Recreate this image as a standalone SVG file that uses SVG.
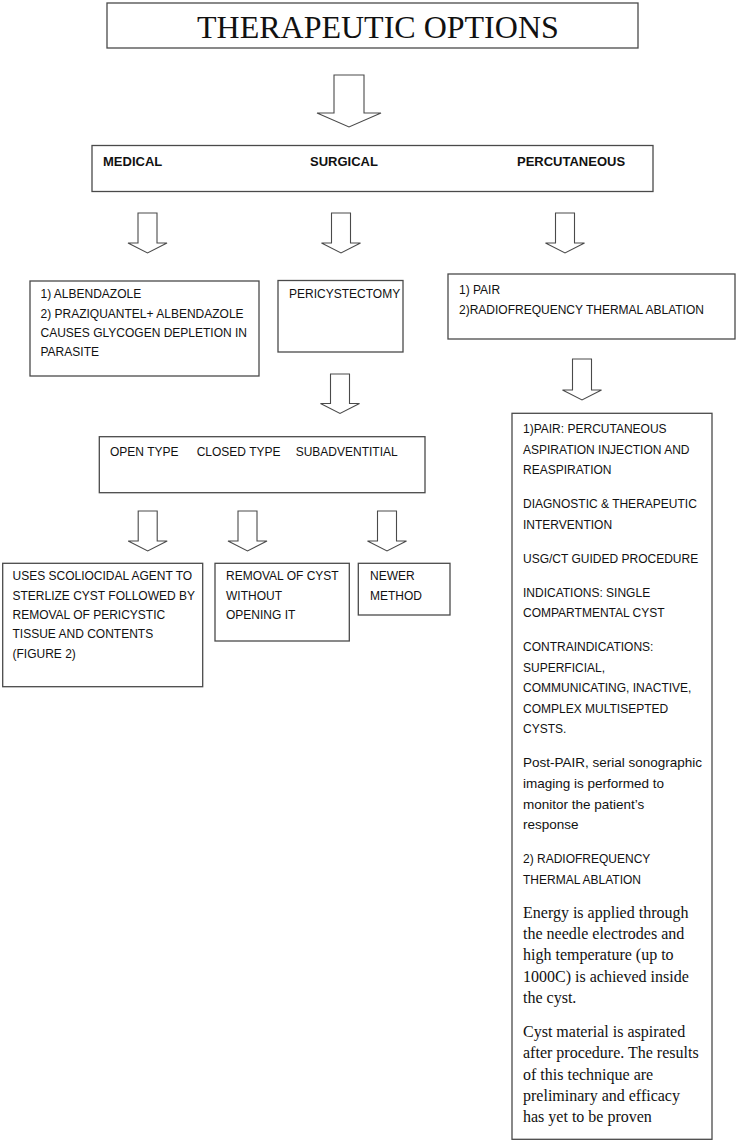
<svg xmlns="http://www.w3.org/2000/svg" width="737" height="1142" viewBox="0 0 737 1142">
<style>
.box{fill:#fff;stroke:#4a4a4a;stroke-width:1.3}
.arr{fill:#fff;stroke:#4a4a4a;stroke-width:1.1;stroke-linejoin:miter}
.t{font-family:"Liberation Sans",Arial,sans-serif;font-size:12px;fill:#111}
.tl{font-family:"Liberation Sans",Arial,sans-serif;font-size:13.5px;fill:#111}
.b{font-family:"Liberation Sans",Arial,sans-serif;font-size:13px;font-weight:bold;fill:#111}
.s{font-family:"Liberation Serif","Times New Roman",serif;font-size:16px;fill:#111}
.title{font-family:"Liberation Serif","Times New Roman",serif;font-size:32px;fill:#111}
</style>
<rect width="737" height="1142" fill="#fff"/>
<g id="connectors">
<path class="arr" d="M334,75 H364 V113 H381 L349,127 L317,113 H334 Z"/>
<path class="arr" d="M138,213 H157 V243 H167 L147.5,253 L128,243 H138 Z"/>
<path class="arr" d="M331.5,213 H350.5 V243 H360.5 L341,253 L321.5,243 H331.5 Z"/>
<path class="arr" d="M555.5,213 H574.5 V243 H584.5 L565,253 L545.5,243 H555.5 Z"/>
<path class="arr" d="M330.5,374 H349.5 V403.5 H359.5 L340,413.5 L320.5,403.5 H330.5 Z"/>
<path class="arr" d="M572.5,359 H591.5 V390 H601.5 L582,400 L562.5,390 H572.5 Z"/>
<path class="arr" d="M138.2,511 H157.2 V541 H167.2 L147.7,551 L128.2,541 H138.2 Z"/>
<path class="arr" d="M238,511 H257 V541 H267 L247.5,551 L228,541 H238 Z"/>
<path class="arr" d="M377.5,511 H396.5 V541 H406.5 L387,551 L367.5,541 H377.5 Z"/>
</g>
<g id="title">
<rect class="box" x="107" y="3" width="531" height="45"/>
<text class="title" x="197" y="38">THERAPEUTIC OPTIONS</text>
</g>
<g id="categories">
<rect class="box" x="92" y="145.5" width="561" height="46"/>
<text class="b" x="103" y="166">MEDICAL</text>
<text class="b" x="310" y="166">SURGICAL</text>
<text class="b" x="517" y="166">PERCUTANEOUS</text>
</g>
<g id="medical">
<rect class="box" x="30" y="281" width="229" height="95"/>
<text class="t" x="40.5" y="298.4">1) ALBENDAZOLE</text>
<text class="t" x="40.5" y="317.7">2) PRAZIQUANTEL+ ALBENDAZOLE</text>
<text class="t" x="40.5" y="337">CAUSES GLYCOGEN DEPLETION IN</text>
<text class="t" x="40.5" y="356.3">PARASITE</text>
</g>
<g id="pericystectomy">
<rect class="box" x="278" y="280.5" width="125" height="71.5"/>
<text class="t" x="289" y="298.4">PERICYSTECTOMY</text>
</g>
<g id="percutaneous">
<rect class="box" x="448" y="274" width="287" height="65"/>
<text class="t" x="459" y="294.3">1) PAIR</text>
<text class="t" x="459" y="313.6">2)RADIOFREQUENCY THERMAL ABLATION</text>
</g>
<g id="surgical-types">
<rect class="box" x="99.3" y="436.7" width="325.7" height="56"/>
<text class="t" x="110" y="456">OPEN TYPE</text>
<text class="t" x="196.7" y="456">CLOSED TYPE</text>
<text class="t" x="295.7" y="456">SUBADVENTITIAL</text>
</g>
<g id="open-type">
<rect class="box" x="2.7" y="563.3" width="200" height="123.4"/>
<text class="t" x="12.5" y="580.4">USES SCOLIOCIDAL AGENT TO</text>
<text class="t" x="12.5" y="599.7">STERLIZE CYST FOLLOWED BY</text>
<text class="t" x="12.5" y="619">REMOVAL OF PERICYSTIC</text>
<text class="t" x="12.5" y="638.3">TISSUE AND CONTENTS</text>
<text class="t" x="12.5" y="657.6">(FIGURE 2)</text>
</g>
<g id="closed-type">
<rect class="box" x="215" y="563.3" width="134.3" height="77.7"/>
<text class="t" x="226" y="580.4">REMOVAL OF CYST</text>
<text class="t" x="226" y="599.7">WITHOUT</text>
<text class="t" x="226" y="619">OPENING IT</text>
</g>
<g id="subadventitial">
<rect class="box" x="358.3" y="563.3" width="91.7" height="51.7"/>
<text class="t" x="370" y="580.4">NEWER</text>
<text class="t" x="370" y="599.7">METHOD</text>
</g>
<g id="pair-details">
<rect class="box" x="512" y="413.3" width="200" height="726"/>
<text class="t" x="523" y="433">1)PAIR: PERCUTANEOUS</text>
<text class="t" x="523" y="453.6">ASPIRATION INJECTION AND</text>
<text class="t" x="523" y="474.2">REASPIRATION</text>
<text class="t" x="523" y="508.1">DIAGNOSTIC &amp; THERAPEUTIC</text>
<text class="t" x="523" y="528.7">INTERVENTION</text>
<text class="t" x="523" y="562.6">USG/CT GUIDED PROCEDURE</text>
<text class="t" x="523" y="596.5">INDICATIONS: SINGLE</text>
<text class="t" x="523" y="617.1">COMPARTMENTAL CYST</text>
<text class="t" x="523" y="651">CONTRAINDICATIONS:</text>
<text class="t" x="523" y="671.6">SUPERFICIAL,</text>
<text class="t" x="523" y="692.2">COMMUNICATING, INACTIVE,</text>
<text class="t" x="523" y="712.8">COMPLEX MULTISEPTED</text>
<text class="t" x="523" y="733.4">CYSTS.</text>
<text class="tl" x="523" y="767.3">Post-PAIR, serial sonographic</text>
<text class="tl" x="523" y="787.9">imaging is performed to</text>
<text class="tl" x="523" y="808.5">monitor the patient’s</text>
<text class="tl" x="523" y="829.1">response</text>
<text class="t" x="523" y="863">2) RADIOFREQUENCY</text>
<text class="t" x="523" y="883.6">THERMAL ABLATION</text>
<text class="s" x="523" y="918.1">Energy is applied through</text>
<text class="s" x="523" y="939.2">the needle electrodes and</text>
<text class="s" x="523" y="960.4">high temperature (up to</text>
<text class="s" x="523" y="981.6">1000C) is achieved inside</text>
<text class="s" x="523" y="1002.7">the cyst.</text>
<text class="s" x="523" y="1037.2">Cyst material is aspirated</text>
<text class="s" x="523" y="1058.4">after procedure. The results</text>
<text class="s" x="523" y="1079.5">of this technique are</text>
<text class="s" x="523" y="1100.7">preliminary and efficacy</text>
<text class="s" x="523" y="1121.9">has yet to be proven</text>
</g>
</svg>
